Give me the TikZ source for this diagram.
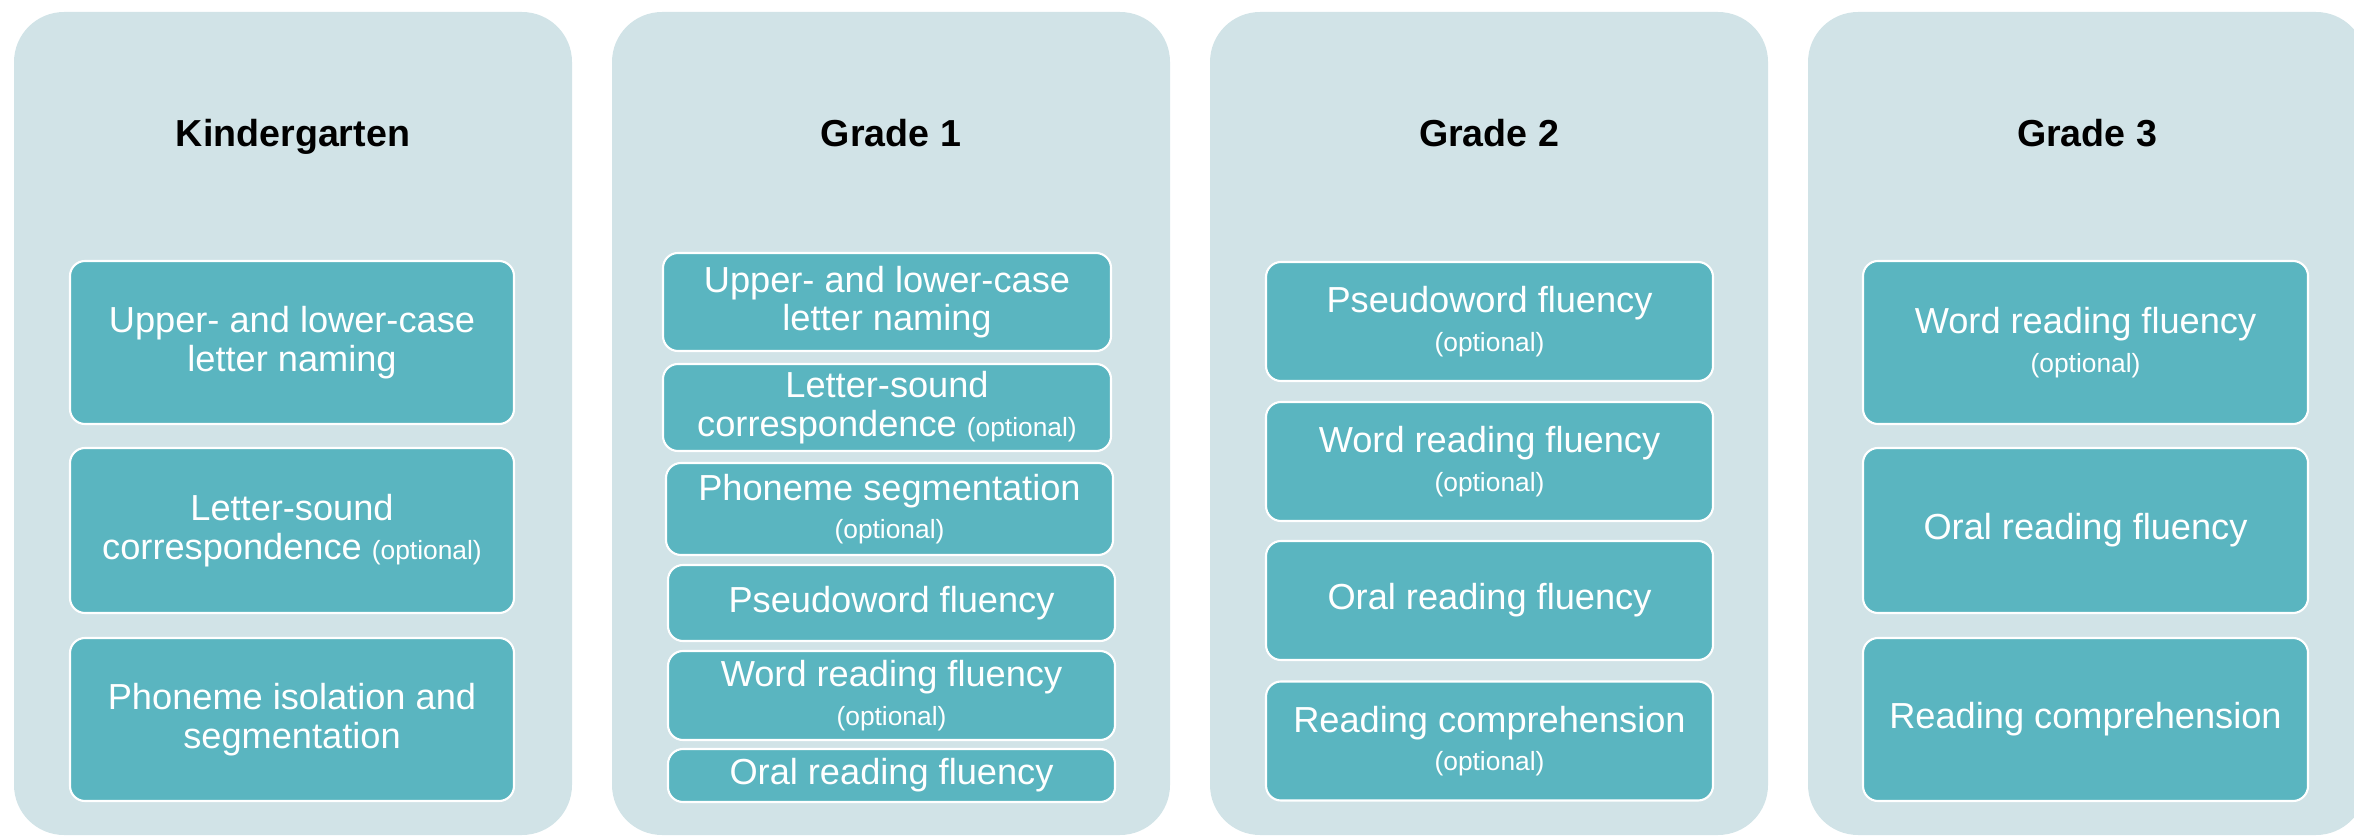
\documentclass[tikz,border=0pt]{standalone}
\usepackage{fontspec}
\setmainfont{Liberation Sans}
\usepackage{xcolor}
\usepackage{tikz}
\usetikzlibrary{positioning}
\definecolor{panelbg}{RGB}{209,227,231}
\definecolor{skillfill}{RGB}{90,181,192}
\newcommand{\optnote}{{\fontsize{7.5}{8}\selectfont (optional)}}

\begin{document}
\begin{tikzpicture}[x=0.1mm,y=-0.1mm,
  panel/.style={rectangle,rounded corners=5mm,fill=panelbg,minimum width=55.8mm,minimum height=82.3mm,inner sep=0pt},
  grade/.style={anchor=base,font=\fontsize{10.7}{12}\selectfont\bfseries},
  skill/.style={rectangle,rounded corners=1.5mm,fill=skillfill,draw=white,line width=0.6pt,text=white,align=center,inner sep=0pt,font=\fontsize{10.3}{10.9}\selectfont}]
  \useasboundingbox (0,0) rectangle (2354,837);
  % the four grade panels
  \node (kpanel) [panel] at (293,423.5) {};
  \node (gonepanel) [panel] at (891,423.5) {};
  \node (gtwopanel) [panel] at (1489,423.5) {};
  \node (gthreepanel) [panel] at (2087,423.5) {};
  \node (ktitle) [grade] at (293,147) {Kindergarten};
  \node (gonetitle) [grade] at (891,147) {Grade 1};
  \node (gtwotitle) [grade] at (1489,147) {Grade 2};
  \node (gthreetitle) [grade] at (2087,147) {Grade 3};
  % Kindergarten
  \node (kletters) [skill,minimum width=44.4mm,minimum height=16.3mm] at (292,342.5) {Upper- and lower-case\\letter naming};
  \node (ksounds) [skill,minimum width=44.4mm,minimum height=16.5mm] at (292,530.5) {Letter-sound\\correspondence \optnote};
  \node (kphoneme) [skill,minimum width=44.4mm,minimum height=16.3mm] at (292,719.5) {Phoneme isolation and\\segmentation};
  % Grade 1
  \node (goneletters) [skill,minimum width=44.8mm,minimum height=9.8mm] at (887,302) {Upper- and lower-case\\letter naming};
  \node (gonesounds) [skill,minimum width=44.8mm,minimum height=8.7mm] at (887,407.5) {Letter-sound\\correspondence \optnote};
  \node (gonephoneme) [skill,minimum width=44.7mm,minimum height=9.2mm] at (889.5,509) {Phoneme segmentation\\\optnote};
  \node (gonepseudo) [skill,minimum width=44.7mm,minimum height=7.6mm] at (891.5,603) {Pseudoword fluency};
  \node (goneword) [skill,minimum width=44.7mm,minimum height=8.9mm] at (891.5,695.5) {Word reading fluency\\\optnote};
  \node (goneoral) [skill,minimum width=44.7mm,minimum height=5.3mm] at (891.5,775.5) {Oral reading fluency};
  % Grade 2
  \node (gtwopseudo) [skill,minimum width=44.7mm,minimum height=11.9mm] at (1489.5,321.5) {Pseudoword fluency\\\optnote};
  \node (gtwoword) [skill,minimum width=44.7mm,minimum height=11.9mm] at (1489.5,461.5) {Word reading fluency\\\optnote};
  \node (gtwooral) [skill,minimum width=44.7mm,minimum height=11.9mm] at (1489.5,600.5) {Oral reading fluency};
  \node (gtwocompr) [skill,minimum width=44.7mm,minimum height=11.9mm] at (1489.5,741) {Reading comprehension\\\optnote};
  % Grade 3
  \node (gthreeword) [skill,minimum width=44.5mm,minimum height=16.3mm] at (2085.5,342.5) {Word reading fluency\\\optnote};
  \node (gthreeoral) [skill,minimum width=44.5mm,minimum height=16.5mm] at (2085.5,530.5) {Oral reading fluency};
  \node (gthreecompr) [skill,minimum width=44.5mm,minimum height=16.3mm] at (2085.5,719.5) {Reading comprehension};
\end{tikzpicture}
\end{document}
